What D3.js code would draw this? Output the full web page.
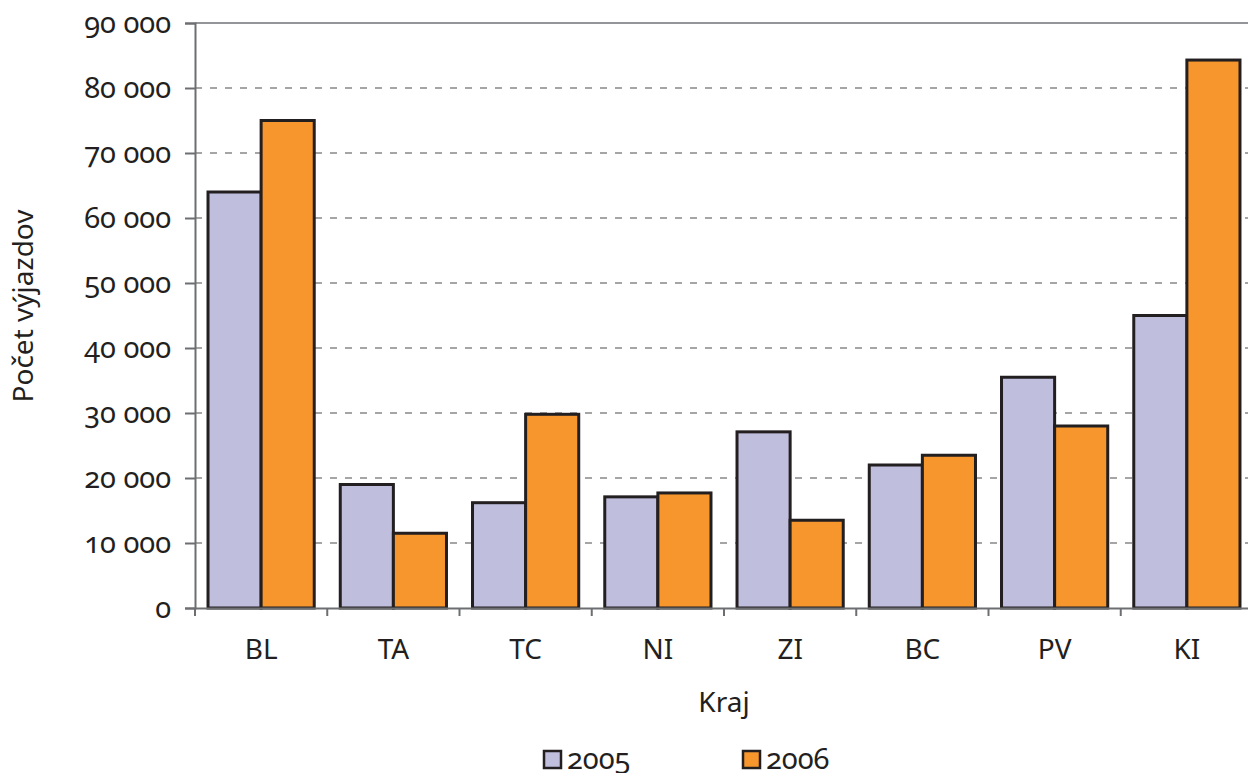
<!DOCTYPE html>
<html>
<head>
<meta charset="utf-8">
<script src="https://cdn.jsdelivr.net/npm/d3@7"></script>
<style>
  body { margin: 0; background: #fff; }
  text { font-family: "Noto Sans", Lato, sans-serif; fill: #231f20; font-variant-numeric: oldstyle-nums; font-feature-settings: "onum" 1; }
</style>
</head>
<body>
<script>
// data
var kraje = ["BL", "TA", "TC", "NI", "ZI", "BC", "PV", "KI"];
var roky = ["2005", "2006"];
var vals2005 = [64000, 19000, 16200, 17100, 27100, 22000, 35500, 45000];
var vals2006 = [75000, 11500, 29800, 17700, 13500, 23500, 28000, 84300];
var yTicks = [0, 10000, 20000, 30000, 40000, 50000, 60000, 70000, 80000, 90000];
var farby = ["#bfbedd", "#f6962d"];

var width = 1248, height = 773;
var mLeft = 195, mRight = 1253, mTop = 23, mBottom = 608;

var svg = d3.select("body").append("svg")
	.attr("width", width)
	.attr("height", height);

var x = d3.scaleBand().domain(kraje).range([mLeft, mRight]).paddingInner(0).paddingOuter(0);
var xin = d3.scaleBand().domain(roky).range([0, x.bandwidth()]).paddingInner(0).paddingOuter(0.245);
var y = d3.scaleLinear().domain([0, 90000]).range([mBottom, mTop]);

var fmt = function(d) { return d3.format(",")(d).replace(/,/g, " "); };

// grid lines
svg.append("g").selectAll("line")
	.data(yTicks.filter(function(d) { return d > 0; }))
	.enter().append("line")
	.attr("x1", mLeft).attr("x2", width)
	.attr("y1", function(d) { return y(d); })
	.attr("y2", function(d) { return y(d); })
	.attr("stroke", function(d) { return d == 90000 ? "#939598" : "#4d4d4f"; })
	.attr("stroke-width", function(d) { return d == 90000 ? 2 : 1.2; })
	.attr("stroke-dasharray", function(d) { return d == 90000 ? null : "7,8"; });

// bars
var serie = [vals2005, vals2006];
var grp = svg.append("g").selectAll("g")
	.data(kraje)
	.enter().append("g")
	.attr("transform", function(d) { return "translate(" + x(d) + ",0)"; });

grp.selectAll("rect")
	.data(function(d, i) { return roky.map(function(r, j) { return { rok: r, v: serie[j][i], j: j }; }); })
	.enter().append("rect")
	.attr("x", function(d) { return xin(d.rok); })
	.attr("width", xin.bandwidth())
	.attr("y", function(d) { return y(d.v); })
	.attr("height", function(d) { return mBottom - y(d.v); })
	.attr("fill", function(d) { return farby[d.j]; })
	.attr("stroke", "#231f20")
	.attr("stroke-width", 3);

// y axis
var yAxis = svg.append("g")
	.attr("transform", "translate(" + mLeft + ",0)")
	.call(d3.axisLeft(y).tickValues(yTicks).tickFormat(fmt).tickSize(10).tickPadding(14));
yAxis.select(".domain").attr("stroke", "#6d6e71").attr("stroke-width", 2);
yAxis.selectAll(".tick line").attr("stroke", "#6d6e71").attr("stroke-width", 2);
yAxis.selectAll("text").style("font-size", "29px").attr("fill", "#231f20");

// x axis
var xAxis = svg.append("g")
	.attr("transform", "translate(0," + mBottom + ")")
	.call(d3.axisBottom(x).tickSize(0).tickPadding(31));
xAxis.select(".domain").attr("stroke", "#6d6e71").attr("stroke-width", 2);
xAxis.selectAll("text").style("font-size", "28px").attr("fill", "#231f20");
svg.append("g").selectAll("line")
	.data(kraje)
	.enter().append("line")
	.attr("x1", function(d) { return x(d); }).attr("x2", function(d) { return x(d); })
	.attr("y1", mBottom).attr("y2", mBottom + 8)
	.attr("stroke", "#6d6e71").attr("stroke-width", 2);

// titles
svg.append("text")
	.attr("x", 724).attr("y", 712)
	.attr("text-anchor", "middle")
	.style("font-size", "28px")
	.text("Kraj");

svg.append("text")
	.attr("transform", "translate(33,306) rotate(-90)")
	.attr("text-anchor", "middle")
	.style("font-size", "28px")
	.text("Počet výjazdov");

// legend
var leg = svg.append("g").selectAll("g")
	.data(roky)
	.enter().append("g")
	.attr("transform", function(d, i) { return "translate(" + (544 + i * 199) + ",751)"; });
leg.append("rect")
	.attr("width", 17).attr("height", 17)
	.attr("fill", function(d, i) { return farby[i]; })
	.attr("stroke", "#231f20").attr("stroke-width", 2.5);
leg.append("text")
	.attr("x", 23).attr("y", 18)
	.style("font-size", "29px")
	.text(function(d) { return d; });
</script>
</body>
</html>
